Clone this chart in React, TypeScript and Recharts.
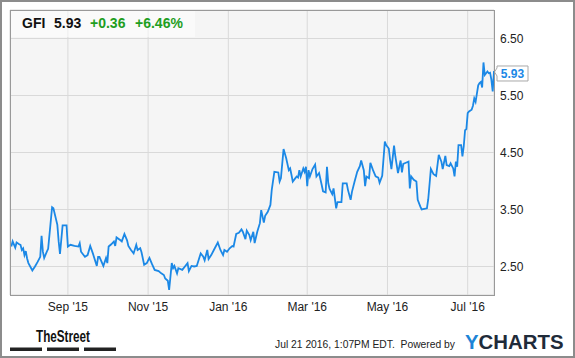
import React from 'react';
import { LineChart, Line, XAxis, YAxis, CartesianGrid } from 'recharts';

const ticker = 'GFI';
const lastPriceText = '5.93';
const changeText = '+0.36';
const changePctText = '+6.46%';
const timestampText = 'Jul 21 2016, 1:07PM EDT.  Powered by';

const dates: string[] = [
  '2015-07-20','2015-07-21','2015-07-23','2015-07-24','2015-07-26','2015-07-27','2015-07-28','2015-07-29','2015-07-30','2015-07-31',
  '2015-08-01','2015-08-02','2015-08-05','2015-08-07','2015-08-09','2015-08-11','2015-08-12','2015-08-13','2015-08-14','2015-08-16',
  '2015-08-17','2015-08-20','2015-08-21','2015-08-24','2015-08-25','2015-08-26','2015-08-28','2015-08-31','2015-09-01','2015-09-03',
  '2015-09-06','2015-09-09','2015-09-10','2015-09-11','2015-09-14','2015-09-16','2015-09-18','2015-09-20','2015-09-23','2015-09-24',
  '2015-09-25','2015-09-28','2015-09-30','2015-10-01','2015-10-02','2015-10-04','2015-10-06','2015-10-07','2015-10-08','2015-10-11',
  '2015-10-12','2015-10-14','2015-10-16','2015-10-17','2015-10-19','2015-10-21','2015-10-23','2015-10-24','2015-10-26','2015-10-27',
  '2015-10-29','2015-10-31','2015-11-02','2015-11-04','2015-11-06','2015-11-09','2015-11-11','2015-11-13','2015-11-14','2015-11-16',
  '2015-11-17','2015-11-19','2015-11-20','2015-11-21','2015-11-23','2015-11-24','2015-11-27','2015-11-29','2015-12-01','2015-12-02',
  '2015-12-04','2015-12-06','2015-12-08','2015-12-11','2015-12-13','2015-12-14','2015-12-16','2015-12-17','2015-12-19','2015-12-21',
  '2015-12-24','2015-12-26','2015-12-28','2015-12-29','2015-12-31','2016-01-02','2016-01-04','2016-01-05','2016-01-07','2016-01-09',
  '2016-01-11','2016-01-12','2016-01-14','2016-01-15','2016-01-17','2016-01-18','2016-01-20','2016-01-21','2016-01-23','2016-01-25',
  '2016-01-26','2016-01-28','2016-01-29','2016-01-31','2016-02-01','2016-02-02','2016-02-03','2016-02-05','2016-02-08','2016-02-09',
  '2016-02-10','2016-02-12','2016-02-14','2016-02-16','2016-02-17','2016-02-18','2016-02-19','2016-02-21','2016-02-22','2016-02-23',
  '2016-02-24','2016-02-25','2016-02-27','2016-02-28','2016-02-29','2016-03-01','2016-03-02','2016-03-03','2016-03-05','2016-03-07',
  '2016-03-08','2016-03-10','2016-03-12','2016-03-13','2016-03-15','2016-03-16','2016-03-17','2016-03-18','2016-03-20','2016-03-21',
  '2016-03-23','2016-03-24','2016-03-27','2016-03-28','2016-03-31','2016-04-01','2016-04-03','2016-04-04','2016-04-06','2016-04-08',
  '2016-04-10','2016-04-11','2016-04-13','2016-04-14','2016-04-15','2016-04-17','2016-04-18','2016-04-20','2016-04-22','2016-04-24',
  '2016-04-25','2016-04-27','2016-04-29','2016-04-30','2016-05-02','2016-05-03','2016-05-04','2016-05-06','2016-05-07','2016-05-09',
  '2016-05-11','2016-05-12','2016-05-13','2016-05-15','2016-05-17','2016-05-18','2016-05-19','2016-05-21','2016-05-23','2016-05-24',
  '2016-05-26','2016-05-27','2016-05-31','2016-06-01','2016-06-03','2016-06-05','2016-06-07','2016-06-09','2016-06-11','2016-06-12',
  '2016-06-14','2016-06-15','2016-06-17','2016-06-18','2016-06-20','2016-06-21','2016-06-22','2016-06-23','2016-06-24','2016-06-26',
  '2016-06-27','2016-06-28','2016-06-29','2016-06-30','2016-07-01','2016-07-02','2016-07-04','2016-07-05','2016-07-06','2016-07-07',
  '2016-07-09','2016-07-10','2016-07-11','2016-07-12','2016-07-13','2016-07-14','2016-07-15','2016-07-16','2016-07-17','2016-07-18',
  '2016-07-19','2016-07-20','2016-07-21',
];

const prices: number[] = [
  2.85, 2.94, 2.83, 2.92, 2.89, 2.88, 2.79, 2.82, 2.70, 2.77,
  2.64, 2.56, 2.43, 2.50, 2.58, 2.67, 3.04, 2.76, 2.65, 2.76,
  2.81, 3.54, 3.52, 3.23, 2.94, 2.72, 3.22, 3.22, 2.85, 2.88,
  2.86, 2.85, 2.91, 2.76, 2.67, 2.70, 2.86, 2.73, 2.51, 2.67,
  2.67, 2.51, 2.65, 2.56, 2.85, 2.89, 2.94, 2.86, 3.01, 2.96,
  2.94, 3.07, 2.96, 2.86, 2.79, 2.73, 2.88, 2.79, 2.82, 2.75,
  2.53, 2.56, 2.65, 2.54, 2.44, 2.42, 2.38, 2.35, 2.29, 2.25,
  2.09, 2.56, 2.47, 2.51, 2.38, 2.47, 2.44, 2.50, 2.56, 2.42,
  2.51, 2.50, 2.51, 2.73, 2.67, 2.61, 2.79, 2.63, 2.70, 2.79,
  2.92, 2.79, 2.70, 2.79, 2.76, 2.82, 2.86, 2.85, 3.07, 3.09,
  3.15, 3.11, 2.98, 3.13, 3.05, 2.96, 3.11, 2.91, 3.11, 3.26,
  3.49, 3.27, 3.39, 3.46, 3.52, 3.58, 3.84, 4.16, 4.15, 3.99,
  4.05, 4.56, 4.40, 4.19, 4.22, 4.11, 3.99, 4.05, 4.08, 4.06,
  4.19, 4.08, 4.22, 4.16, 4.25, 3.91, 4.19, 4.08, 4.21, 4.29,
  4.08, 4.14, 3.93, 3.82, 3.80, 4.25, 3.96, 3.86, 3.77, 3.87,
  3.52, 3.63, 3.63, 3.96, 3.96, 3.84, 3.67, 3.81, 3.99, 4.16,
  4.26, 4.36, 4.19, 3.91, 4.08, 4.05, 4.32, 4.19, 4.08, 4.06,
  3.97, 4.09, 4.69, 4.63, 4.57, 4.37, 4.21, 4.62, 4.43, 4.14,
  4.36, 4.15, 4.30, 4.32, 4.34, 3.87, 4.08, 4.02, 3.99, 3.67,
  3.55, 3.50, 3.52, 3.68, 4.21, 4.12, 4.09, 4.46, 4.34, 4.21,
  4.44, 4.28, 4.26, 4.31, 4.22, 4.08, 4.34, 4.25, 4.63, 4.63,
  4.43, 4.61, 4.89, 4.91, 5.19, 5.22, 5.25, 5.32, 5.45, 5.39,
  5.68, 5.72, 5.74, 5.64, 6.08, 5.86, 5.89, 5.92, 5.89, 5.90,
  5.78, 5.57, 5.93,
];

const xDomainDates = ['2015-07-19', '2016-07-21'];
const xTickDates = ['2015-09-01', '2015-11-01', '2016-01-01', '2016-03-01', '2016-05-01', '2016-07-01'];
const xTickLabels = ["Sep '15", "Nov '15", "Jan '16", "Mar '16", "May '16", "Jul '16"];
const yDomain = [2, 7];
const yTicks = [2.5, 3.5, 4.5, 5.5, 6.5];

const toTime = (s: string) => {
  const [y, m, d] = s.split('-').map(Number);
  return Date.UTC(y, m - 1, d);
};

const data = dates.map((d, i) => ({ t: toTime(d), price: prices[i] }));
const xDomain = xDomainDates.map(toTime);
const xTicks = xTickDates.map(toTime);
const xLabelMap = new Map<number, string>(xTicks.map((t, i) => [t, xTickLabels[i]]));

const FONT = "'Liberation Sans', Arial, Helvetica, sans-serif";
const LINE_COLOR = '#1b88e6';
const GREEN = '#1f9e1f';

const renderPriceTag = (props: any) => {
  const { x, y, index } = props;
  if (index !== data.length - 1 || x == null || y == null) return null;
  const left = x + 3;
  const right = x + 34;
  const top = y - 5;
  const bottom = y + 10;
  const d = `M${left},${top} H${right} V${bottom} H${left} V${y + 5} L${x + 0.5},${y + 1} L${left},${y - 3} Z`;
  return (
    <g key="price-tag">
      <path d={d} fill="#ffffff" stroke="#a8a8a8" strokeWidth={1} />
      <text
        x={(left + right) / 2}
        y={y + 7}
        textAnchor="middle"
        fontFamily={FONT}
        fontSize={12}
        fontWeight="bold"
        fill={LINE_COLOR}
      >
        {prices[prices.length - 1].toFixed(2)}
      </text>
    </g>
  );
};

export default function App() {
  return (
    <div
      style={{
        position: 'absolute',
        left: 0,
        top: 0,
        width: 575,
        height: 358,
        background: '#ffffff',
        fontFamily: FONT,
      }}
    >
      <LineChart
        width={575}
        height={358}
        data={data}
        margin={{ top: 10, right: 21, bottom: 33, left: 10 }}
      >
        <CartesianGrid stroke="#d9d9d9" fill="#f5f5f5" fillOpacity={1} />
        <XAxis
          dataKey="t"
          type="number"
          domain={xDomain}
          ticks={xTicks}
          interval={0}
          tickFormatter={(v: number) => xLabelMap.get(v) ?? ''}
          axisLine={false}
          tickLine={false}
          tickMargin={1}
          height={30}
          tick={{ fill: '#222222', fontSize: 12, fontFamily: FONT }}
        />
        <YAxis
          orientation="right"
          domain={yDomain}
          ticks={yTicks}
          interval={0}
          tickFormatter={(v: number) => v.toFixed(2)}
          axisLine={false}
          tickLine={false}
          tickMargin={0}
          width={60}
          tick={{ fill: '#222222', fontSize: 12, fontFamily: FONT }}
        />
        <Line
          type="linear"
          dataKey="price"
          stroke={LINE_COLOR}
          strokeWidth={1.8}
          dot={false}
          activeDot={false}
          isAnimationActive={false}
          label={renderPriceTag}
        />
      </LineChart>
      <svg
        width={575}
        height={358}
        style={{ position: 'absolute', left: 0, top: 0, pointerEvents: 'none' }}
      >
        <rect x={1} y={1} width={573} height={356} fill="none" stroke="#8c8c8c" strokeWidth={2} />
        <rect x={10.5} y={10.5} width={484} height={285} fill="none" stroke="#999999" strokeWidth={1} />
        <rect x={11} y={11} width={184} height={26} fill="#ffffff" fillOpacity={0.5} />
        <text x={22} y={28.3} fontFamily={FONT} fontSize={14} fontWeight="bold" fill="#111111">
          {ticker}
        </text>
        <text x={54} y={28.3} fontFamily={FONT} fontSize={14} fontWeight="bold" fill="#111111">
          {lastPriceText}
        </text>
        <text x={90} y={28.3} fontFamily={FONT} fontSize={14} fontWeight="bold" fill={GREEN}>
          {changeText}
        </text>
        <text x={135} y={28.3} fontFamily={FONT} fontSize={14} fontWeight="bold" fill={GREEN}>
          {changePctText}
        </text>
        <text
          x={36}
          y={341.7}
          fontFamily="'Liberation Sans Narrow', 'Arial Narrow', 'Liberation Sans', Arial, sans-serif"
          fontSize={17}
          fontWeight="bold"
          fill="#111111"
          textLength={54}
          lengthAdjust="spacingAndGlyphs"
        >
          TheStreet
        </text>
        <rect x={10} y={347.5} width={32} height={3.5} fill="#222222" />
        <rect x={47} y={347.5} width={32} height={3.5} fill="#222222" />
        <rect x={84} y={347.5} width={32} height={3.5} fill="#222222" />
        <text
          x={275}
          y={347.5}
          fontFamily={FONT}
          fontSize={10.5}
          fill="#222222"
          textLength={180}
          lengthAdjust="spacingAndGlyphs"
          style={{ whiteSpace: 'pre' }}
        >
          {timestampText}
        </text>
        <text
          x={465}
          y={349}
          fontFamily={FONT}
          fontSize={20.5}
          fontWeight="bold"
          textLength={98.5}
          lengthAdjust="spacingAndGlyphs"
        >
          <tspan fill="#1d84d6">Y</tspan>
          <tspan fill="#1f2b3a">CHARTS</tspan>
        </text>
      </svg>
    </div>
  );
}
